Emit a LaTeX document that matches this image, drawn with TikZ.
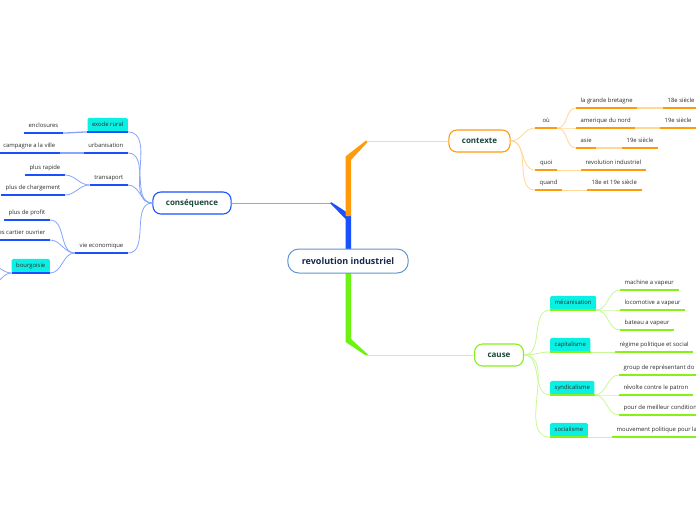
\documentclass[tikz,border=0pt]{standalone}
\usepackage{fontspec}
\setmainfont{Open Sans}
\usetikzlibrary{positioning, backgrounds, calc}

\definecolor{obr}{RGB}{255,155,10}
\definecolor{olt}{RGB}{255,215,150}
\definecolor{bbr}{RGB}{25,80,255}
\definecolor{blt}{RGB}{135,165,255}
\definecolor{gbr}{RGB}{135,240,25}
\definecolor{glt}{RGB}{200,248,150}
\definecolor{hlcyan}{RGB}{10,240,228}
\definecolor{rootline}{RGB}{95,150,210}
\definecolor{rootfg}{RGB}{25,40,80}
\definecolor{mainfg}{RGB}{25,70,55}
\definecolor{txt}{RGB}{45,45,45}

\tikzset{
    % central topic
    rootbox/.style={rectangle, rounded corners=11pt, draw=rootline, line width=1pt, fill=white,
                minimum height=24pt, inner xsep=14pt, font=\fontsize{9}{10}\selectfont\bfseries, text=rootfg},
    % main topics
    mainbox/.style={rectangle, rounded corners=8pt, draw=#1, line width=1.1pt, fill=white,
                minimum height=22pt, inner xsep=13pt, font=\fontsize{8}{9}\selectfont\bfseries, text=mainfg},
    % sub topics
    topic/.style={inner xsep=4.5pt, inner ysep=3.5pt, text height=4.5pt, text depth=1.5pt,
                font=\fontsize{5.9}{7}\selectfont, text=txt},
    hltopic/.style={topic, fill=hlcyan, rounded corners=1.5pt, inner ysep=4pt},
    uline/.style={line width=1.6pt, #1},
    link/.style={line width=0.8pt, #1},
    dlink/.style={line width=1.3pt, #1},
}

\begin{document}
\begin{tikzpicture}[x=1pt, y=-1pt]
\useasboundingbox (0,0) rectangle (696,520);
\coordinate (redge) at (703,0);
\coordinate (ledge) at (-6,0);

% central and main topics
\node[rootbox] (root) at (348,261) {revolution industriel};
\node[mainbox=bbr] (conseq) at (192,203) {conséquence};
\node[mainbox=obr] (contexte) at (479.5,141) {contexte};
\node[mainbox=gbr] (cause) at (499,355) {cause};

% trunk
\coordinate (otip) at (367,141);
\coordinate (btip) at (330,203);
\coordinate (gtip) at (367,355);
\begin{scope}[on background layer]
\fill[white] (0,0) rectangle (696,520);
\fill[bbr] (345.5,249) -- (345.5,219) -- (btip) -- (331.5,202.3) -- (351,215) -- (351,249) -- cycle;
\fill[obr] (345.5,216) -- (345.5,156.5) -- (366,140.6) -- (368,141.6) -- (351,160) -- (351,216) -- cycle;
\fill[gbr!80!green] (345.5,273) -- (345.5,342) -- (366,355.6) -- (368,354.6) -- (351,339) -- (351,273) -- cycle;
\end{scope}
\draw[link=olt] (otip) -- (contexte.west);
\draw[link=blt] (btip) -- (conseq.east);
\draw[link=glt] (gtip) -- (cause.west);

% contexte
\node[topic, anchor=south west, minimum width=22pt] (ou) at (535,128) {où};
\node[topic, anchor=south west] (lgb) at (576,108) {la grande bretagne};
\node[topic, anchor=south west] (lgbd) at (663,108) {18e siècle};
\node[topic, anchor=south west] (amn) at (576,128) {amerique du nord};
\node[topic, anchor=south west] (amnd) at (660,128) {19e siècle};
\node[topic, anchor=south west] (asie) at (576,148) {asie};
\node[topic, anchor=south west] (asied) at (622,148) {19e siècle};
\node[topic, anchor=south west, minimum width=22pt] (quoi) at (535,170) {quoi};
\node[topic, anchor=south west] (quoid) at (581,170) {revolution industriel};
\node[topic, anchor=south west] (quand) at (535,190) {quand};
\node[topic, anchor=south west] (quandd) at (587,190) {18e et 19e siècle};

\foreach \n in {ou,quoi,quand}
    \draw[link=olt] (contexte.east) to[out=0,in=180] (\n.south west);
\foreach \n in {lgb,amn,asie}
    \draw[link=olt] (ou.south east) to[out=0,in=180] (\n.south west);
\draw[dlink=olt] (lgb.south east) -- (lgbd.south west);
\draw[dlink=olt] (amn.south east) -- (amnd.south west);
\draw[dlink=olt] (asie.south east) -- (asied.south west);
\draw[link=olt] (quoi.south east) -- (quoid.south west);
\draw[link=olt] (quand.south east) -- (quandd.south west);
\foreach \n in {ou,lgb,amn,asie,asied,quoi,quoid,quand,quandd}
    \draw[uline=obr] (\n.south west) -- (\n.south east);
\foreach \n in {lgbd,amnd}
    \draw[uline=obr] (\n.south west) -- (\n.south west -| redge);

% cause
\node[hltopic, anchor=south west] (meca) at (550,310) {mécanisation};
\node[topic, anchor=south west] (mav) at (620,290) {machine a vapeur};
\node[topic, anchor=south west] (lav) at (620,310) {locomotive a vapeur};
\node[topic, anchor=south west] (bav) at (620,330) {bateau a vapeur};
\node[hltopic, anchor=south west] (capi) at (550,352) {capitalisme};
\node[topic, anchor=south west] (capid) at (615,352) {régime politique et social};
\node[hltopic, anchor=south west] (synd) at (550,395) {syndicalisme};
\node[topic, anchor=south west] (grp) at (619,375) {group de représentant do};
\node[topic, anchor=south west] (rcp) at (619,395) {révolte contre le patron};
\node[topic, anchor=south west] (pmc) at (619,415) {pour de meilleur condition};
\node[hltopic, anchor=south west] (soci) at (550,437) {socialisme};
\node[topic, anchor=south west] (socid) at (612,437) {mouvement politique pour la};

\foreach \n in {meca,capi,synd,soci}
    \draw[link=glt] (cause.east) to[out=0,in=180] (\n.south west);
\foreach \n in {mav,lav,bav}
    \draw[link=glt] (meca.south east) to[out=0,in=180] (\n.south west);
\foreach \n in {grp,rcp,pmc}
    \draw[link=glt] (synd.south east) to[out=0,in=180] (\n.south west);
\draw[link=glt] (capi.south east) -- (capid.south west);
\draw[link=glt] (soci.south east) -- (socid.south west);
\foreach \n in {meca,mav,lav,bav,capi,capid,synd,rcp,soci}
    \draw[uline=gbr] (\n.south west) -- (\n.south east);
\foreach \n in {grp,pmc,socid}
    \draw[uline=gbr] (\n.south west) -- (\n.south west -| redge);

% consequence
\node[hltopic, anchor=south east] (exode) at (128,132) {exode rural};
\node[topic, anchor=south east] (encl) at (63,133) {enclosures};
\node[topic, anchor=south east] (urba) at (128,153) {urbanisation};
\node[topic, anchor=south east] (cav) at (60,153) {campagne a la ville};
\node[topic, anchor=south east] (trans) at (128,185) {transaport};
\node[topic, anchor=south east] (prap) at (65,175) {plus rapide};
\node[topic, anchor=south east] (pchg) at (65,195) {plus de chargement};
\node[topic, anchor=south east] (vie) at (128,253) {vie economique};
\node[topic, anchor=south east] (pprof) at (50,220) {plus de profit};
\node[topic, anchor=south east] (cart) at (50,240) {les cartier ouvrier};
\node[hltopic, anchor=south east] (bour) at (50,273) {bourgoisie};
\coordinate (bx1) at (-10,265);
\coordinate (bx2) at (-10,285);

\foreach \n in {exode,urba,trans,vie}
    \draw[link=blt] (conseq.west) to[out=180,in=0] (\n.south east);
\draw[dlink=blt] (exode.south west) to[out=180,in=0] (encl.south east);
\draw[dlink=blt] (urba.south west) -- (cav.south east);
\foreach \n in {prap,pchg}
    \draw[link=blt] (trans.south west) to[out=180,in=0] (\n.south east);
\foreach \n in {pprof,cart,bour}
    \draw[link=blt] (vie.south west) to[out=180,in=0] (\n.south east);
\foreach \n in {bx1,bx2}
    \draw[link=blt] (bour.south west) to[out=180,in=0] (\n);
\foreach \n in {exode,encl,urba,trans,prap,pchg,vie,pprof,bour}
    \draw[uline=bbr] (\n.south west) -- (\n.south east);
\foreach \n in {cav,cart}
    \draw[uline=bbr] (\n.south east) -- (\n.south east -| ledge);
\end{tikzpicture}
\end{document}
